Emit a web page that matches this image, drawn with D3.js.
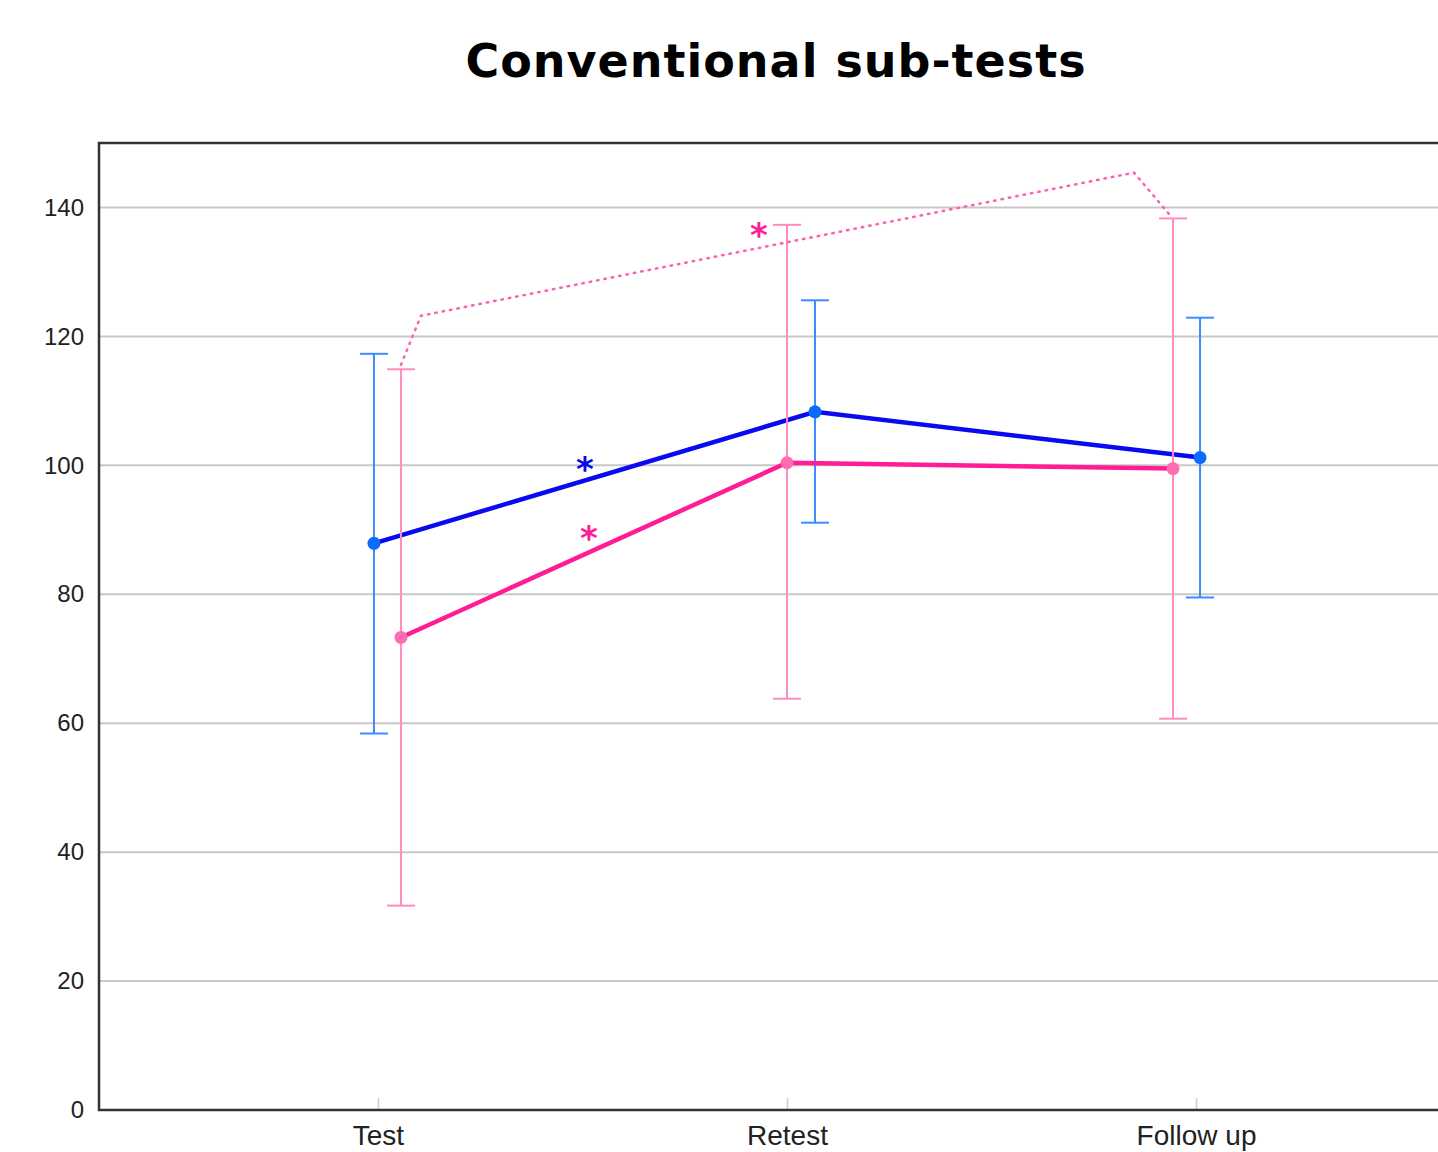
<!DOCTYPE html>
<html>
<head>
<meta charset="utf-8">
<script src="https://cdn.jsdelivr.net/npm/d3@7"></script>
<style>
  body { margin: 0; background: #fff; }
  svg { display: block; }
</style>
</head>
<body>
<svg id="chart" width="1438" height="1152"></svg>
<script>
// data
var categories = ["Test", "Retest", "Follow up"];
var yTicks = [0, 20, 40, 60, 80, 100, 120, 140];

var blueMean = [87.9, 108.3, 101.2];
var blueLow  = [58.4, 91.1, 79.5];
var blueHigh = [117.3, 125.6, 122.9];

var pinkMean = [73.3, 100.4, 99.5];
var pinkLow  = [31.7, 63.8, 60.7];
var pinkHigh = [114.9, 137.3, 138.3];

// dotted significance bracket: [category index, pixel shift, value]
var bracketPts = [[0, 23, 115.6], [0, 43, 123.2], [2, -62, 145.4], [2, -26, 138.8]];

// asterisks: [category index, pixel shift, value, series]
var stars = [[0, 207, 97.6, "blue"], [0, 211, 86.8, "pink"], [1, -28, 133.8, "pink"]];

// horizontal nudges so the two series don't overlap
var blueShift = [-4, 28, 4];
var pinkShift = [23, 0, -23];

(function(){
    var svg = d3.select("#chart");
    var plotLeft = 99, plotTop = 143, plotBottom = 1110, plotRight = 1475;

    var x = d3.scalePoint().domain(categories).range([plotLeft, plotRight]).padding(0.682);
    var y = d3.scaleLinear().domain([0, 150]).range([plotBottom, plotTop]);

    // title
    svg.append("text")
        .attr("x", 776).attr("y", 77)
        .attr("text-anchor", "middle")
        .style("font-family", "'DejaVu Sans', sans-serif")
        .style("font-weight", "bold")
        .style("font-size", "46px")
        .style("letter-spacing", "1px")
        .text("Conventional sub-tests");

    // grid lines
    svg.append("g").selectAll("line").data(yTicks.filter(function(d){ return d > 0; }))
        .join("line")
        .attr("x1", plotLeft).attr("x2", 1438)
        .attr("y1", function(d){ return y(d); }).attr("y2", function(d){ return y(d); })
        .style("stroke", "#c8c8c8").style("stroke-width", 2);

    // y axis
    var yAxis = svg.append("g").attr("transform", "translate(" + plotLeft + ",0)")
        .call(d3.axisLeft(y).tickValues(yTicks).tickSize(0).tickPadding(15));
    yAxis.select(".domain").remove();
    yAxis.selectAll("text")
        .style("font-family", "'Liberation Sans', Arial, sans-serif")
        .style("font-size", "24px").style("fill", "#222");

    // x axis
    var xAxis = svg.append("g").attr("transform", "translate(0," + plotBottom + ")")
        .call(d3.axisBottom(x).tickSize(-12).tickPadding(15));
    xAxis.select(".domain").remove();
    xAxis.selectAll(".tick line").style("stroke", "#cccccc").style("stroke-width", 1.5);
    xAxis.selectAll("text")
        .style("font-family", "'Liberation Sans', Arial, sans-serif")
        .style("font-size", "28px").style("fill", "#222");

    // frame (right side runs off the page)
    svg.append("path")
        .attr("d", "M1438," + plotTop + "H" + plotLeft + "V" + plotBottom + "H1438")
        .style("fill", "none").style("stroke", "#333").style("stroke-width", 2.5);

    function drawSeries(mean, low, high, shift, lineColor, barColor, dotColor){
        var px = function(i){ return x(categories[i]) + shift[i]; };
        var g = svg.append("g");
        categories.forEach(function(c, i){
            var cx = px(i);
            g.append("line").attr("x1", cx).attr("x2", cx)
                .attr("y1", y(low[i])).attr("y2", y(high[i]))
                .style("stroke", barColor).style("stroke-width", 2);
            [low[i], high[i]].forEach(function(v){
                g.append("line").attr("x1", cx - 14).attr("x2", cx + 14)
                    .attr("y1", y(v)).attr("y2", y(v))
                    .style("stroke", barColor).style("stroke-width", 2);
            });
        });
        var line = d3.line().x(function(d, i){ return px(i); }).y(function(d){ return y(d); });
        g.append("path").datum(mean).attr("d", line)
            .style("fill", "none").style("stroke", lineColor).style("stroke-width", 4.5);
        g.selectAll("circle").data(mean).join("circle")
            .attr("cx", function(d, i){ return px(i); })
            .attr("cy", function(d){ return y(d); })
            .attr("r", 6.5).style("fill", dotColor);
    }

    drawSeries(blueMean, blueLow, blueHigh, blueShift, "#0a0af0", "#3b8cff", "#0a6cff");
    drawSeries(pinkMean, pinkLow, pinkHigh, pinkShift, "#ff1c96", "#ff8cc0", "#ff6cb4");

    // dotted bracket
    var bracketLine = d3.line()
        .x(function(d){ return x(categories[d[0]]) + d[1]; })
        .y(function(d){ return y(d[2]); });
    svg.append("path").datum(bracketPts).attr("d", bracketLine)
        .style("fill", "none").style("stroke", "#ff5fb0").style("stroke-width", 2.5)
        .style("stroke-dasharray", "1.5 6").style("stroke-linecap", "round");

    // asterisks
    svg.append("g").selectAll("text").data(stars).join("text")
        .attr("x", function(d){ return x(categories[d[0]]) + d[1]; })
        .attr("y", function(d){ return y(d[2]); })
        .attr("text-anchor", "middle")
        .style("font-family", "'DejaVu Sans', sans-serif")
        .style("font-weight", "bold")
        .style("font-size", "34px")
        .style("fill", function(d){ return d[3] === "blue" ? "#0a0af0" : "#ff1c96"; })
        .text("*");
})();
</script>
</body>
</html>
